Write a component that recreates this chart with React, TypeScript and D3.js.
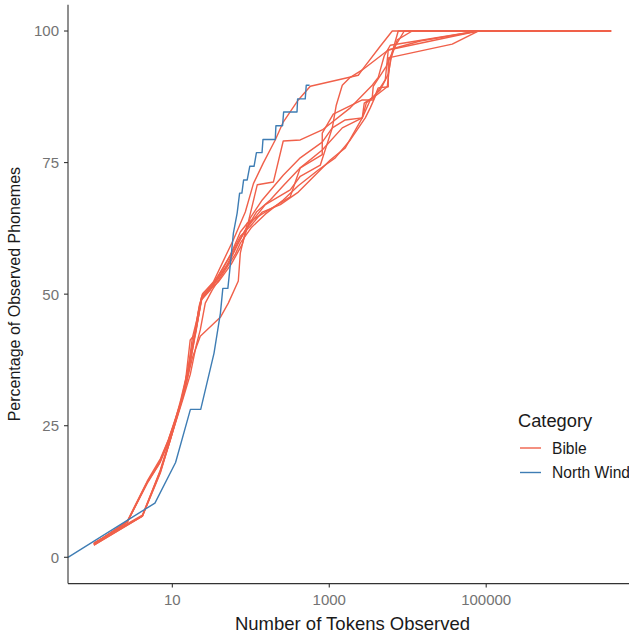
import React from 'react';
import * as d3 from 'd3';

type Pt = [number, number]; // [tokens observed, % of phonemes observed]

// North Wind passage (first point is 0 tokens -> drawn at the panel edge like -Inf)
const northWind: Pt[] = [
  [0, 0], [6, 10.3], [11, 18.0], [17, 28.1], [23, 28.1], [34, 38.8], [41, 46.4], [44, 51.1],
  [51, 51.1], [54, 54.6], [60, 61.6], [67, 65.4], [72, 69.2], [77, 69.2], [81, 71.7], [90, 71.7],
  [97, 74.3], [110, 74.3], [118, 76.9], [139, 76.9], [143, 79.4], [205, 79.4], [209, 82.0],
  [254, 82.0], [262, 84.6], [388, 84.6], [395, 87.1], [494, 87.1], [509, 89.7], [561, 89.7],
];

const bible1: Pt[] = [
  [1, 2.5], [2.67, 6.7], [4.8, 14.3], [7.03, 18.3], [8.89, 22.3], [11.9, 27.6], [15.1, 33.1],
  [18.5, 40.3], [21.4, 46.6], [24.1, 50.0], [33.3, 52.3], [43.3, 55.9], [59.8, 60.3], [85.1, 65.6],
  [108, 71.0], [144, 74.9], [205, 79.3], [259, 82.7], [403, 86.9], [573, 89.5], [2342, 91.6],
  [2712, 92.9], [4462, 97.1], [6350, 100], [3910000, 100],
];
const bible2: Pt[] = [
  [1, 2.3], [4.15, 7.8], [7.03, 16.2], [10, 23.6], [14.2, 31.4], [18, 37.9], [22.7, 42.0],
  [40.9, 45.6], [51.7, 48.3], [69.3, 52.5], [73.5, 57.8], [90.2, 63.5], [318, 68.5], [427, 74.0],
  [814, 76.5], [814, 80.6], [1125, 84.2], [2634, 86.9], [3636, 86.9], [4211, 89.2], [5647, 89.4],
  [5647, 94.9], [36900, 97.5], [79100, 100], [3910000, 100],
];
const bible3: Pt[] = [
  [1, 2.5], [2.67, 6.7], [4.8, 14.1], [7.03, 18.1], [9.16, 22.3], [11.6, 27.0], [14.2, 31.4],
  [16.9, 41.3], [19.6, 42.4], [23.4, 48.9], [30.5, 50.8], [40.9, 54.2], [54.8, 57.4], [73.5, 61.8],
  [92.9, 63.7], [121, 70.8], [194, 71.3], [259, 79.1], [427, 79.3], [814, 81.2], [1853, 85.4],
  [3529, 89.7], [4211, 91.2], [5020, 95.3], [5988, 97.3], [79100, 100], [271000, 100],
];
const bible4: Pt[] = [
  [1, 2.7], [4.15, 8.0], [7.03, 16.4], [9.43, 22.3], [12.3, 28.4], [15.5, 34.9], [18.5, 40.7],
  [21.4, 45.5], [24.1, 49.6], [34.3, 51.9], [48.7, 55.3], [65.4, 59.1], [82.7, 61.8], [118, 65.6],
  [177, 67.9], [259, 70.6], [427, 74.0], [814, 77.4], [1465, 81.6], [2634, 83.5], [2792, 86.3],
  [3529, 87.3], [3636, 89.5], [5324, 93.3], [6734, 96.8], [9021, 100], [1570000, 100],
];
const bible5: Pt[] = [
  [1, 2.5], [2.67, 6.9], [4.8, 14.5], [7.03, 18.7], [8.89, 22.3], [11.2, 26.8], [13.8, 31.0],
  [16.9, 37.1], [20.2, 43.2], [23.4, 48.9], [27.1, 50.2], [38.5, 52.3], [56.4, 55.7], [77.9, 59.5],
  [98.6, 64.5], [140, 67.9], [259, 72.6], [427, 75.9], [814, 78.9], [1093, 81.6], [1228, 85.9],
  [1465, 89.7], [1853, 91.2], [2634, 92.6], [5647, 96.4], [79100, 100], [3910000, 100],
];
const bible6: Pt[] = [
  [1, 2.7], [4.15, 7.8], [7.03, 16.6], [9.71, 23.3], [12.6, 29.5], [15.5, 35.2], [19.1, 42.2],
  [22.1, 47.9], [24.8, 50.2], [36.4, 52.5], [53.2, 56.1], [69.3, 59.7], [85.1, 62.2], [153, 67.0],
  [318, 69.8], [427, 72.4], [768, 74.5], [1093, 81.6], [1600, 83.1], [2634, 83.5], [3329, 86.9],
  [5483, 89.4], [5988, 94.5], [7349, 98.3], [11400, 100], [877000, 100],
];
const bible7: Pt[] = [
  [1, 2.5], [2.67, 6.7], [4.8, 14.3], [6.63, 17.5], [8.63, 21.5], [10.9, 26.1], [13.4, 30.3],
  [16.0, 36.0], [18.0, 41.7], [20.8, 45.5], [23.4, 49.3], [28.7, 50.8], [43.3, 54.6], [59.8, 58.4],
  [73.5, 61.0], [98.6, 62.9], [140, 65.6], [238, 67.0], [403, 69.4], [573, 71.7], [1030, 75.5],
  [1600, 77.8], [2634, 83.5], [2962, 86.3], [4462, 88.8], [5647, 91.8], [6350, 96.0], [7568, 100],
  [3910000, 100],
];
const bible8: Pt[] = [
  [1, 2.3], [4.15, 7.8], [7.03, 16.0], [10, 23.6], [13.8, 30.3], [16.9, 34.7], [20.2, 40.3],
  [22.7, 43.2], [26.3, 48.3], [32.3, 50.8], [43.3, 53.7], [63.5, 57.6], [73.5, 59.7], [101, 62.6],
  [153, 65.2], [259, 67.9], [403, 70.6], [724, 73.6], [1192, 75.9], [1853, 79.3], [2876, 83.5],
  [3329, 85.4], [4088, 88.4], [5170, 90.7], [5647, 96.4], [14420, 98.1], [79100, 100], [3910000, 100],
];

const bibleSeries: Pt[][] = [bible1, bible2, bible3, bible4, bible5, bible6, bible7, bible8];

const xTicks = [10, 1000, 100000];
const yTicks = [0, 25, 50, 75, 100];
const categories = ['Bible', 'North Wind'];
const categoryColors = ['#F0604A', '#3E7DB4'];

const FONT = '"Liberation Sans", Arial, Helvetica, sans-serif';

export default function App() {
  const W = 629;
  const H = 636;
  const left = 68;
  const right = 637;
  const top = 4.7;
  const bottom = 583.6;

  const all = [...bibleSeries.flat(), ...northWind];
  const positive = all.map((d) => d[0]).filter((t) => t > 0);
  const lo = Math.log10(d3.min(positive) as number);
  const hi = Math.log10(d3.max(positive) as number);
  const pad = (hi - lo) * 0.05;
  const x = d3.scaleLog().domain([10 ** (lo - pad), 10 ** (hi + pad)]).range([left, right]);
  const y = d3.scaleLinear().domain([-5, 105]).range([bottom, top]);

  const line = d3
    .line<Pt>()
    .x((d) => (d[0] > 0 ? x(d[0]) : left))
    .y((d) => y(d[1]));

  const tickColor = '#333333';
  const tickText = '#737373';

  return (
    <svg
      width={W}
      height={H}
      viewBox={`0 0 ${W} ${H}`}
      style={{ position: 'absolute', left: 0, top: 0, display: 'block', background: '#fff' }}
      fontFamily={FONT}
    >
      <rect x={0} y={0} width={W} height={H} fill="#ffffff" />
      <g fill="none" strokeLinejoin="round" strokeLinecap="butt">
        {bibleSeries.map((s, i) => (
          <path key={i} d={line(s) || ''} stroke={categoryColors[0]} strokeWidth={1.4} />
        ))}
        <path d={line(northWind) || ''} stroke={categoryColors[1]} strokeWidth={1.4} />
      </g>

      {/* axes */}
      <line x1={left} x2={left} y1={top} y2={bottom} stroke={tickColor} strokeWidth={1.1} />
      <line x1={left} x2={W} y1={bottom} y2={bottom} stroke={tickColor} strokeWidth={1.1} />

      {yTicks.map((t) => (
        <g key={t}>
          <line x1={left - 4} x2={left} y1={y(t)} y2={y(t)} stroke={tickColor} strokeWidth={1.1} />
          <text x={left - 9} y={y(t)} dy="0.36em" textAnchor="end" fontSize={15} fill={tickText}>
            {t}
          </text>
        </g>
      ))}
      {xTicks.map((t) => (
        <g key={t}>
          <line x1={x(t)} x2={x(t)} y1={bottom} y2={bottom + 4} stroke={tickColor} strokeWidth={1.1} />
          <text x={x(t)} y={605} textAnchor="middle" fontSize={15} fill={tickText}>
            {t}
          </text>
        </g>
      ))}

      <text x={(left + right) / 2} y={630} textAnchor="middle" fontSize={18.5} fill="#1a1a1a">
        Number of Tokens Observed
      </text>
      <text
        transform={`translate(19.5, ${(top + bottom) / 2}) rotate(-90)`}
        textAnchor="middle"
        fontSize={16}
        fill="#1a1a1a"
      >
        Percentage of Observed Phonemes
      </text>

      {/* legend */}
      <text x={518} y={427} fontSize={18.3} fill="#1a1a1a">
        Category
      </text>
      {categories.map((c, i) => (
        <g key={c}>
          <line
            x1={520}
            x2={541}
            y1={448 + i * 24.5}
            y2={448 + i * 24.5}
            stroke={categoryColors[i]}
            strokeWidth={1.4}
          />
          <text x={552} y={453.5 + i * 24} fontSize={15.6} fill="#1a1a1a">
            {c}
          </text>
        </g>
      ))}
    </svg>
  );
}
